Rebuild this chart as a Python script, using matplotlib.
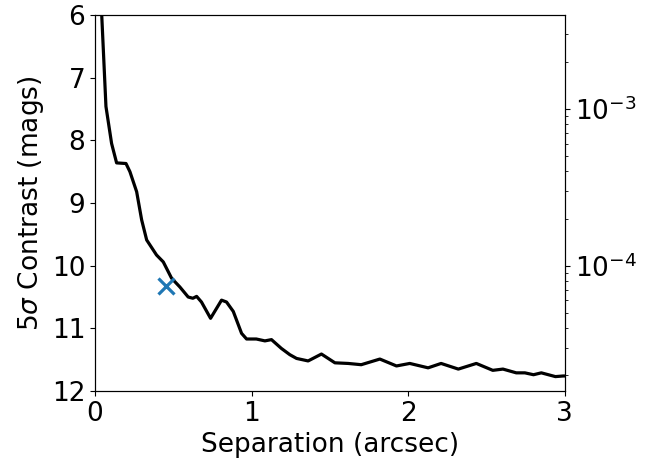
import numpy as np
import matplotlib.pyplot as plt

# Contrast curve (separation in arcsec, 5-sigma contrast in mags)
sep = [0.035, 0.043, 0.07, 0.106, 0.138, 0.198, 0.223, 0.266, 0.298, 0.33,
       0.393, 0.436, 0.489, 0.542, 0.595, 0.625, 0.649, 0.68, 0.738, 0.808,
       0.84, 0.883, 0.936, 0.968, 1.03, 1.085, 1.127, 1.19, 1.244, 1.287,
       1.361, 1.446, 1.532, 1.617, 1.70, 1.819, 1.925, 2.01, 2.127, 2.21,
       2.32, 2.435, 2.54, 2.605, 2.69, 2.745, 2.80, 2.85, 2.94, 2.99, 3.0]
mag = [5.5, 6.0, 7.46, 8.05, 8.36, 8.37, 8.5, 8.82, 9.27, 9.59,
       9.83, 9.94, 10.2, 10.34, 10.5, 10.52, 10.49, 10.58, 10.84, 10.55,
       10.58, 10.73, 11.08, 11.17, 11.17, 11.2, 11.18, 11.32, 11.42, 11.48,
       11.52, 11.41, 11.55, 11.56, 11.58, 11.49, 11.6, 11.56, 11.63, 11.56,
       11.65, 11.56, 11.67, 11.65, 11.71, 11.71, 11.74, 11.71, 11.77, 11.76, 11.76]

# Companion point
comp_sep = [0.453]
comp_mag = [10.33]

plt.rcParams['font.size'] = 19

fig = plt.figure(figsize=(6.56, 4.61), dpi=100)
ax = fig.add_axes([0.1448, 0.1518, 0.7162, 0.8157])

ax.plot(sep, mag, color='black', lw=2.3)
ax.plot(comp_sep, comp_mag, 'x', color='tab:blue', markersize=12, mew=2.3)

ax.set_xlim(0, 3)
ax.set_ylim(12, 6)
ax.set_xticks([0, 1, 2, 3])
ax.set_yticks([6, 7, 8, 9, 10, 11, 12])
ax.set_xlabel('Separation (arcsec)')
ax.set_ylabel(r'5$\sigma$ Contrast (mags)')

# Right axis: flux contrast
ax2 = ax.twinx()
ax2.set_yscale('log')
ax2.set_ylim(10 ** (-0.4 * 12), 10 ** (-0.4 * 6))

plt.savefig('out.png', dpi=100)
plt.close(fig)
